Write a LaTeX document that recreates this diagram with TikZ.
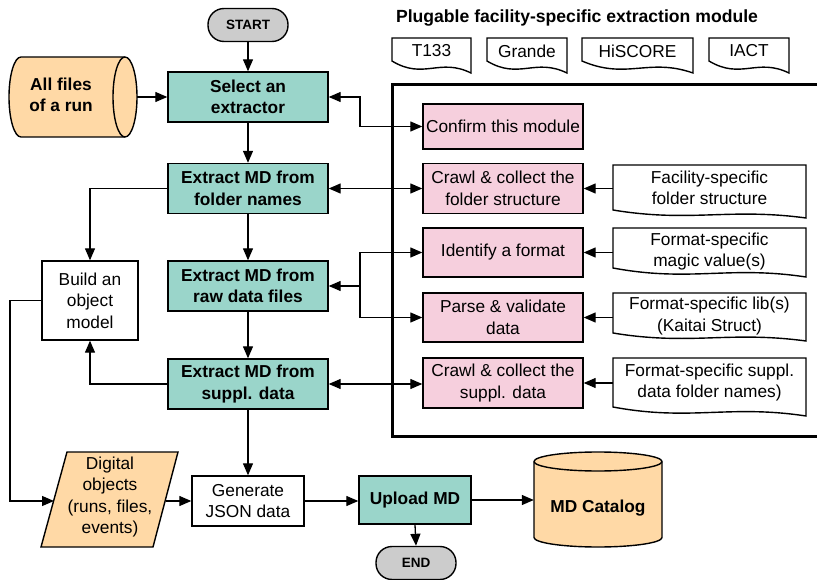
\documentclass[tikz,border=0pt]{standalone}
\usepackage{fontspec}
\setmainfont{Liberation Sans}
\usetikzlibrary{arrows.meta,calc}
\definecolor{tealc}{RGB}{154,213,202}
\definecolor{pinkc}{RGB}{246,207,221}
\definecolor{orngc}{RGB}{255,217,166}
\definecolor{greyc}{RGB}{204,204,204}
\newcommand\wavedoc[5]{%
  \pgfmathsetmacro\wdA{#2-0.4*(#2-#1)}%
  \pgfmathsetmacro\wdB{#1+0.4*(#2-#1)}%
  \pgfmathsetmacro\wdC{#4-0.3*(#5-#4)}%
  \pgfmathsetmacro\wdD{#4+1.6*(#5-#4)}%
  \draw[shp, fill=white] (#1,#3) -- (#2,#3) -- (#2,#5) .. controls (\wdA,\wdC) and (\wdB,\wdD) .. (#1,#4) -- cycle;}
\begin{document}
\begin{tikzpicture}[x=1pt,y=-1pt,
  txt/.style={font=\fontsize{17.3}{21.5}\selectfont, align=center, inner sep=0pt},
  btxt/.style={font=\fontsize{17.3}{21.5}\selectfont\bfseries, align=center, inner sep=0pt},
  shp/.style={line width=1.4pt, draw=black},
  tealbox/.style={btxt, shp, fill=tealc, minimum width=160pt, minimum height=50pt},
  pinkbox/.style={txt, shp, fill=pinkc, minimum width=160pt, minimum height=49pt},
  whitebox/.style={txt, shp, fill=white},
  term/.style={font=\fontsize{13.5}{16}\selectfont\bfseries, shp, fill=greyc, rounded corners=16pt, minimum width=80pt, minimum height=33pt, inner sep=0pt},
  arr/.style={line width=1.3pt, -{Triangle[length=12pt,width=10pt]}},
  arrtwo/.style={line width=1.3pt, {Triangle[length=12pt,width=10pt]}-{Triangle[length=12pt,width=10pt]}},
  anchorbox/.style={inner sep=0pt}
]
\useasboundingbox (0,0) rectangle (817,580);

% title and tapes
\node[btxt, font=\fontsize{17.6}{21.5}\selectfont\bfseries] (title) at (577,18) {Plugable facility-specific extraction module};
\wavedoc{392}{471}{38}{61}{73}
\wavedoc{487}{567}{38}{61}{73}
\wavedoc{582}{693}{38}{61}{73}
\wavedoc{709}{789}{38}{61}{73}
\node[txt] (t1) at (431.5,51) {T133};
\node[txt] (t2) at (527,51) {Grande};
\node[txt] (t3) at (637.5,51) {HiSCORE};
\node[txt] (t4) at (749,51) {IACT};

% module frame
\draw[line width=3pt] (830,85) -- (392,85) -- (392,436) -- (830,436);

% terminals
\node[term] (start) at (248,25) {START};
\node[term] (end) at (416,563) {END};

% all files cylinder (horizontal)
\draw[shp, fill=orngc] (21,57) -- (125,57) arc[start angle=-90, end angle=90, x radius=12, y radius=40]
  -- (21,137) arc[start angle=90, end angle=270, x radius=12, y radius=40] -- cycle;
\draw[shp] (125,57) arc[start angle=270, end angle=90, x radius=12, y radius=40];
\node[anchorbox, minimum width=128pt, minimum height=80pt] (allf) at (73,97) {};
\node[btxt] (allft) at (61,95) {All files\\of a run};

% main column
\node[tealbox] (sel) at (248,97) {Select an\\extractor};
\node[tealbox] (ef) at (248,188.5) {Extract MD from\\folder names};
\node[tealbox] (er) at (248,286) {Extract MD from\\raw data files};
\node[tealbox] (es) at (248,384) {Extract MD from\\suppl. data};
\node[whitebox, minimum width=96pt, minimum height=79pt] (build) at (90,300.5) {Build an\\object\\model};

% pink boxes
\node[pinkbox, minimum height=45pt] (conf) at (503,126.5) {Confirm this module};
\node[pinkbox, minimum height=50pt] (cf) at (503,188.5) {Crawl \& collect the\\folder structure};
\node[pinkbox] (id) at (503,252.5) {Identify a format};
\node[pinkbox] (pa) at (503,317.5) {Parse \& validate\\data};
\node[pinkbox, minimum height=50pt] (cs) at (503,383) {Crawl \& collect the\\suppl. data};

% document shapes
\wavedoc{613}{806}{165}{210}{218}
\wavedoc{613}{806}{228}{268}{277}
\wavedoc{613}{806}{293}{333}{341}
\wavedoc{613}{806}{358}{407}{416}
\node[txt, minimum width=193pt] (f1) at (709.5,188) {Facility-specific\\folder structure};
\node[txt, minimum width=193pt] (f2) at (709.5,251.5) {Format-specific\\magic value(s)};
\node[txt, minimum width=193pt] (f3) at (709.5,316) {Format-specific lib(s)\\(Kaitai Struct)};
\node[txt, minimum width=193pt] (f4) at (709.5,382.5) {Format-specific suppl.\\data folder names)};

% digital objects parallelogram
\draw[shp, fill=orngc] (67,452) -- (178,452) -- (153,547) -- (41,547) -- cycle;
\node[txt] (dig) at (110,497) {Digital\\objects\\(runs, files,\\events)};
\coordinate (dol) at (54,501);
\coordinate (dor) at (166,501);

% bottom row
\node[whitebox, minimum width=112pt, minimum height=50pt] (gen) at (248,501) {Generate\\JSON data};
\node[tealbox, minimum width=112pt, minimum height=48pt] (up) at (415,500) {Upload MD};

% MD catalog cylinder (vertical)
\draw[shp, fill=orngc] (534,461.5) -- (534,537.5) arc[start angle=180, end angle=0, x radius=64, y radius=9.5]
  -- (662,461.5) arc[start angle=0, end angle=-180, x radius=64, y radius=9.5] -- cycle;
\draw[shp] (534,461.5) arc[start angle=180, end angle=0, x radius=64, y radius=9.5];
\node[anchorbox, minimum width=128pt, minimum height=95pt] (cat) at (598,500) {};
\node[btxt] (catt) at (598,508) {MD Catalog};

% helper coordinates
\coordinate (bx) at (360,0);
\coordinate (lx) at (10,0);

% connectors
\draw[arr] (start.south) -- (sel.north);
\draw[arr] (allf.east |- sel.west) -- (sel.west);
\draw[arr] (sel.south) -- (ef.north);
\draw[arr] (ef.south) -- (er.north);
\draw[arr] (er.south) -- (es.north);
\draw[arr] (es.south) -- (gen.north);
\draw[arr] (ef.west) -| (build.north);
\draw[arr] (es.west) -| (build.south);
\draw[arr] (build.west) -- (build.west -| lx) |- (dol);
\draw[arr] (dor) -- (gen.west);
\draw[arr] (gen.east) -- (up.west |- gen.east);
\draw[arr] (up.east) -- (cat.west |- up.east);
\draw[arr] (up.south) -- (end.north);

\draw[arrtwo] (sel.east) -- (sel.east -| bx) |- (conf.west);
\draw[arrtwo] (ef.east) -- (ef.east -| cf.west);
\draw[arr] (er.east -| bx) -- (er.east);
\draw[arr] (er.east -| bx) |- (id.west);
\draw[arr] (er.east -| bx) |- (pa.west);
\draw[arrtwo] (es.east) -- (es.east -| cs.west);

\draw[arr] (f1.west |- cf.east) -- (cf.east);
\draw[arr] (f2.west |- id.east) -- (id.east);
\draw[arr] (f3.west |- pa.east) -- (pa.east);
\draw[arr] (f4.west |- cs.east) -- (cs.east);
\end{tikzpicture}
\end{document}
